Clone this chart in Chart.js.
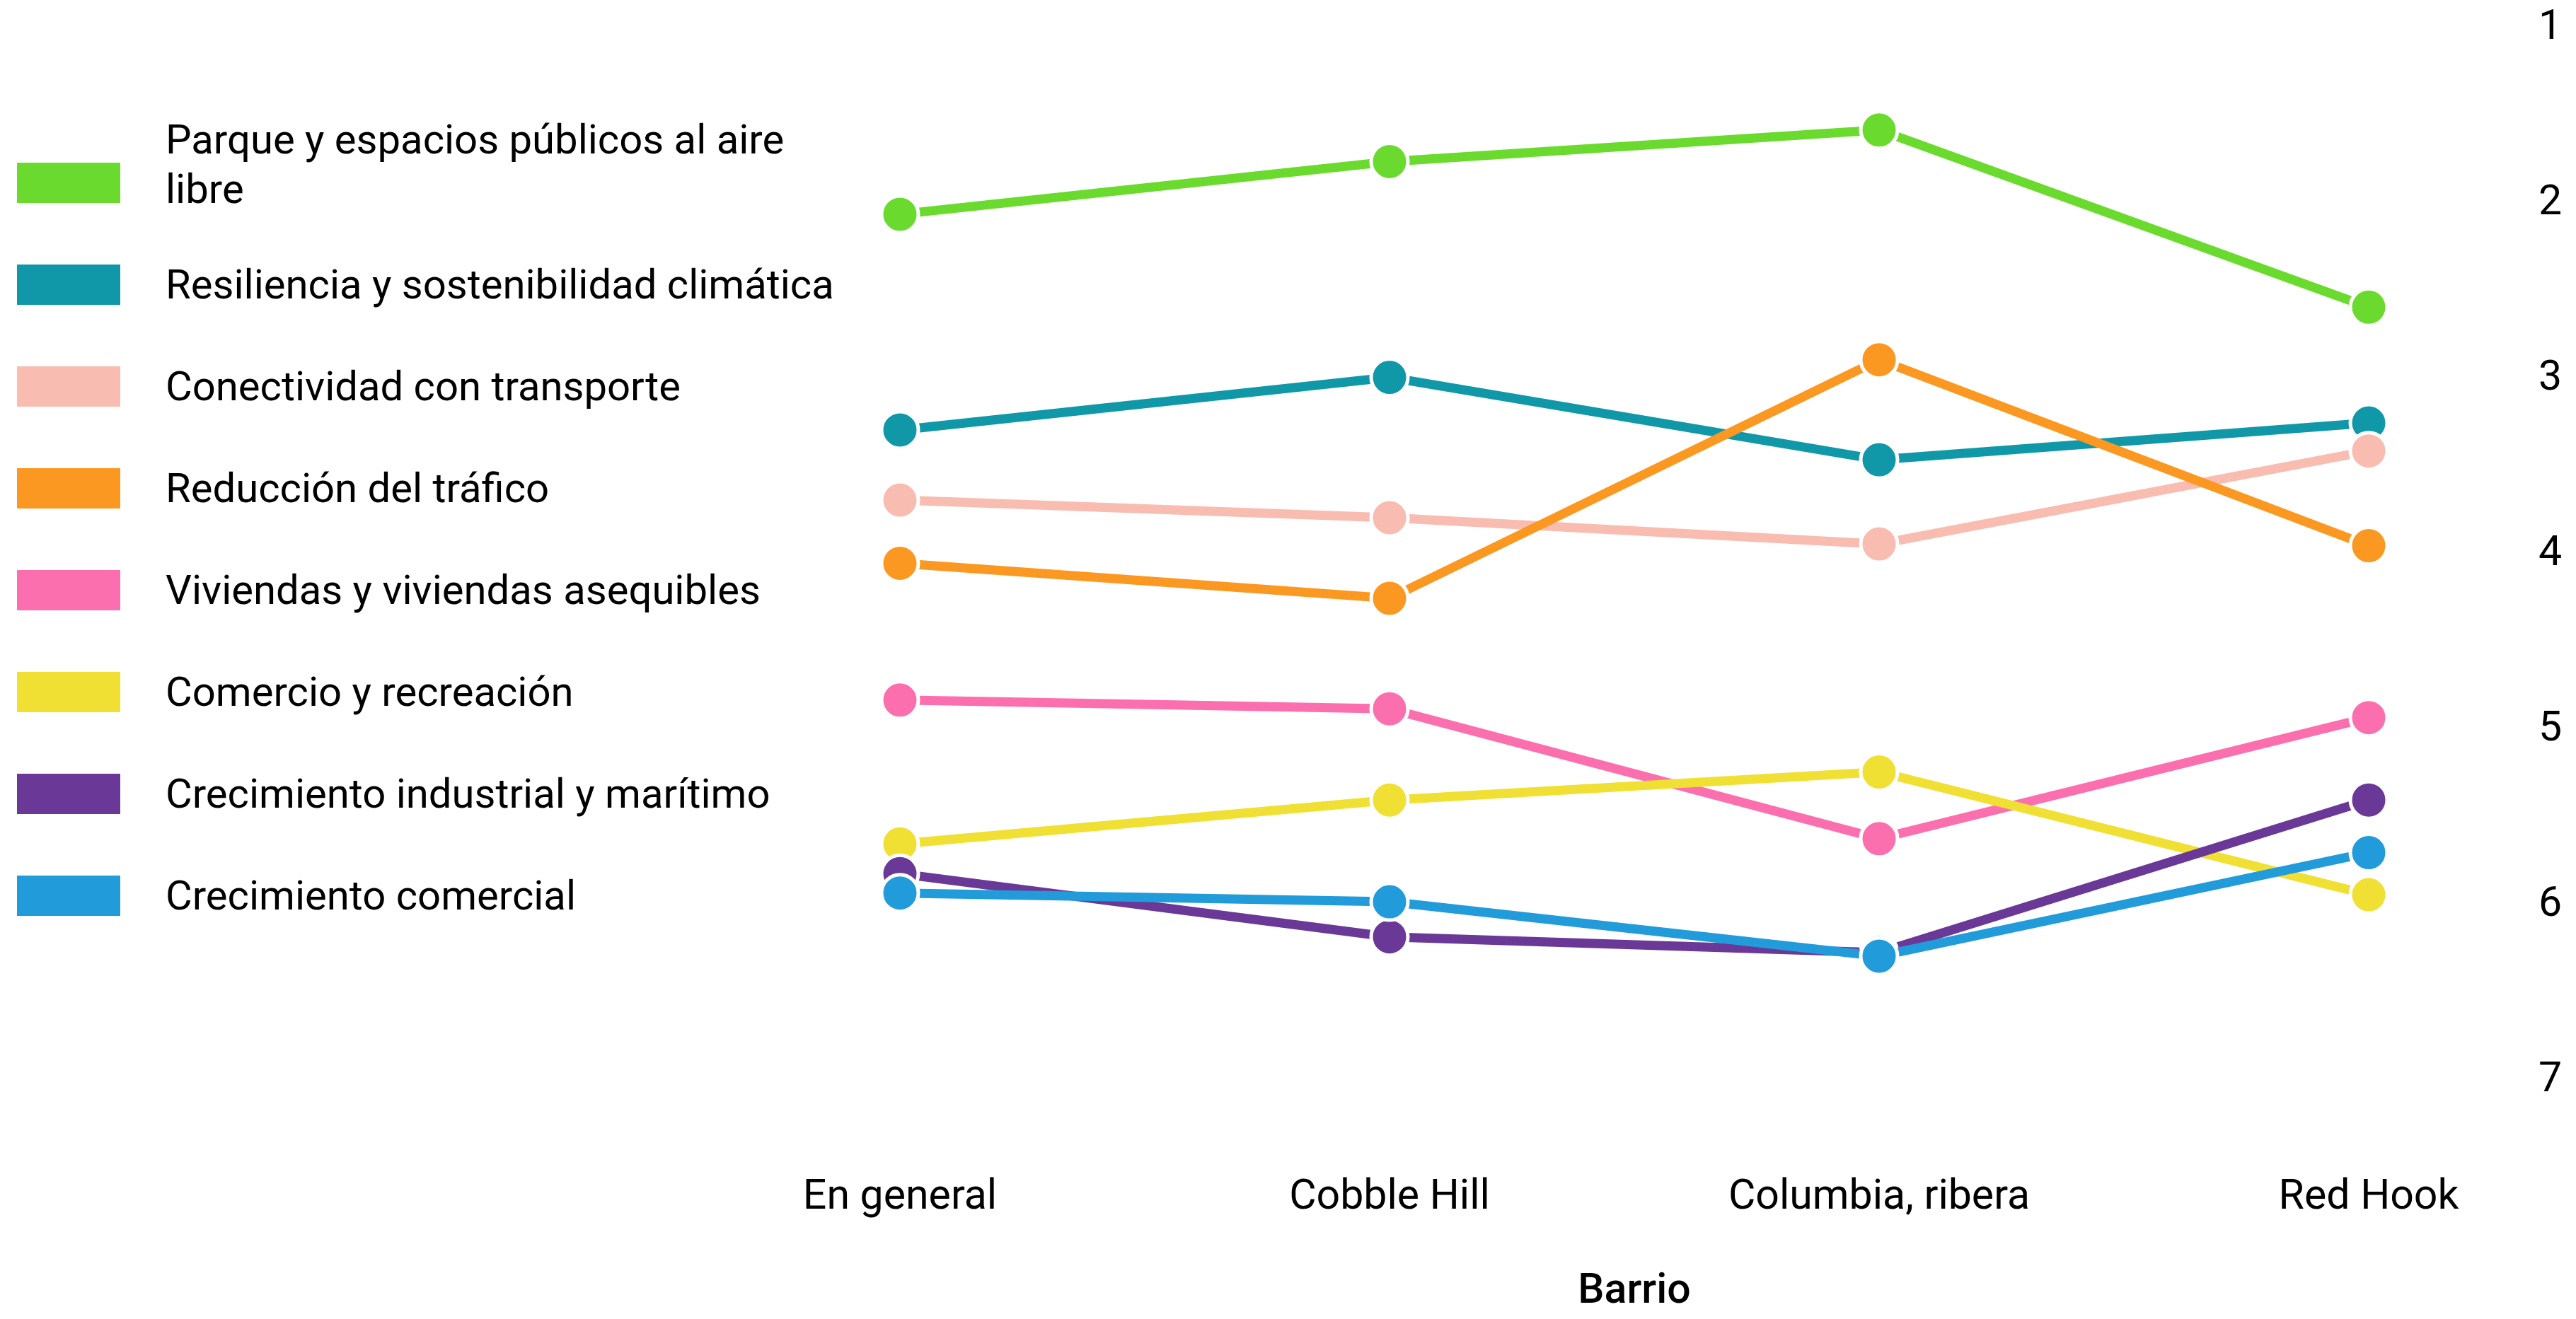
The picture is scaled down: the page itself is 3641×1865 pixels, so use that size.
<!DOCTYPE html>
<html>
<head>
<meta charset="utf-8">
<script src="https://cdn.jsdelivr.net/npm/chart.js@4"></script>
<style>
    body { margin: 0; background: #fff; font-family: Roboto, sans-serif; }
    #wrap { position: relative; width: 3641px; height: 1865px; }
    #legend { position: absolute; left: 0; top: 0; }
    .item { position: absolute; left: 24px; display: flex; align-items: center; height: 144px; }
    .box { width: 146px; height: 57px; flex: none; }
    .label { margin-left: 64px; font-size: 58px; line-height: 70px; color: #000; width: 1000px; }
</style>
</head>
<body>
<div id="wrap">
    <canvas id="rankChart"></canvas>
    <div id="legend"></div>
</div>
<script>
// Rankings per neighbourhood (1 = top)
const barrios = ['En general', 'Cobble Hill', 'Columbia, ribera', 'Red Hook'];

const seriesNames = [
    'Parque y espacios públicos al aire libre',
    'Resiliencia y sostenibilidad climática',
    'Conectividad con transporte',
    'Reducción del tráfico',
    'Viviendas y viviendas asequibles',
    'Comercio y recreación',
    'Crecimiento industrial y marítimo',
    'Crecimiento comercial'
];

const seriesColors = ['#6ADB2E', '#1198A8', '#F9BCB0', '#FB9822', '#FC6FAE', '#F0E034', '#6A3896', '#229BDA'];

const parque = [2.06, 1.76, 1.58, 2.59];
const resiliencia = [3.29, 2.99, 3.46, 3.25];
const conectividad = [3.69, 3.79, 3.94, 3.41];
const trafico = [4.05, 4.25, 2.89, 3.95];
const viviendas = [4.83, 4.88, 5.62, 4.93];
const comercio = [5.65, 5.40, 5.24, 5.94];
const industrial = [5.82, 6.18, 6.27, 5.40];
const crecimiento = [5.93, 5.98, 6.29, 5.70];

const seriesValues = [parque, resiliencia, conectividad, trafico, viviendas, comercio, industrial, crecimiento];

const yTicks = [1, 2, 3, 4, 5, 6, 7];

document.addEventListener('DOMContentLoaded', () => {
    buildLegend();
    initChart();
});

function buildLegend() {
    const legend = document.getElementById('legend');
    seriesNames.forEach((name, i) => {
        const item = document.createElement('div');
        item.className = 'item';
        item.style.top = (258 + i * 144 - 72) + 'px';
        const box = document.createElement('div');
        box.className = 'box';
        box.style.background = seriesColors[i];
        const label = document.createElement('div');
        label.className = 'label';
        label.innerText = name;
        // first label wraps to two lines and sits a bit higher than its box
        if (i === 0) {
            label.style.width = '960px';
            label.style.transform = 'translateY(-26px)';
        }
        item.appendChild(box);
        item.appendChild(label);
        legend.appendChild(item);
    });
}

function initChart() {
    const ctx = document.getElementById('rankChart');

    const datasets = seriesNames.map((name, i) => ({
        label: name,
        data: seriesValues[i],
        borderColor: seriesColors[i],
        backgroundColor: seriesColors[i],
        borderWidth: 13,
        pointRadius: 26,
        pointBorderWidth: 5,
        pointBorderColor: '#fff',
        pointBackgroundColor: seriesColors[i],
        tension: 0,
        order: seriesNames.length - i
    }));

    new Chart(ctx.getContext('2d'), {
        type: 'line',
        data: {
            labels: barrios,
            datasets: datasets
        },
        options: {
            responsive: true,
            maintainAspectRatio: false,
            animation: false,
            layout: {
                padding: { left: 1272, top: 40, right: 0, bottom: 2 }
            },
            plugins: {
                legend: { display: false },
                tooltip: { enabled: false }
            },
            scales: {
                x: {
                    offset: false,
                    grid: { display: false, drawTicks: false },
                    border: { display: false },
                    ticks: {
                        color: '#000',
                        padding: 131,
                        maxRotation: 0,
                        autoSkip: false,
                        font: { family: 'Roboto', size: 59 }
                    },
                    title: {
                        display: true,
                        text: 'Barrio',
                        color: '#000',
                        padding: { top: 70, bottom: 0 },
                        font: { family: 'Roboto', size: 59, weight: '500' }
                    },
                    afterFit: (axis) => {
                        // chart.js counts tick padding twice, fix the axis height
                        axis.height = 335;
                        axis.paddingLeft = 0;
                        axis.paddingRight = 0;
                    }
                },
                y: {
                    position: 'right',
                    reverse: true,
                    min: yTicks[0],
                    max: yTicks[yTicks.length - 1],
                    grid: { display: false, drawTicks: false },
                    border: { display: false },
                    afterBuildTicks: (axis) => {
                        axis.ticks = yTicks.map(v => ({ value: v }));
                    },
                    ticks: {
                        color: '#000',
                        padding: 240,
                        font: { family: 'Roboto', size: 59 }
                    },
                    afterFit: (axis) => {
                        axis.width = 293;
                        axis.paddingTop = 0;
                        axis.paddingBottom = 0;
                    }
                }
            }
        }
    });
}
</script>
</body>
</html>
